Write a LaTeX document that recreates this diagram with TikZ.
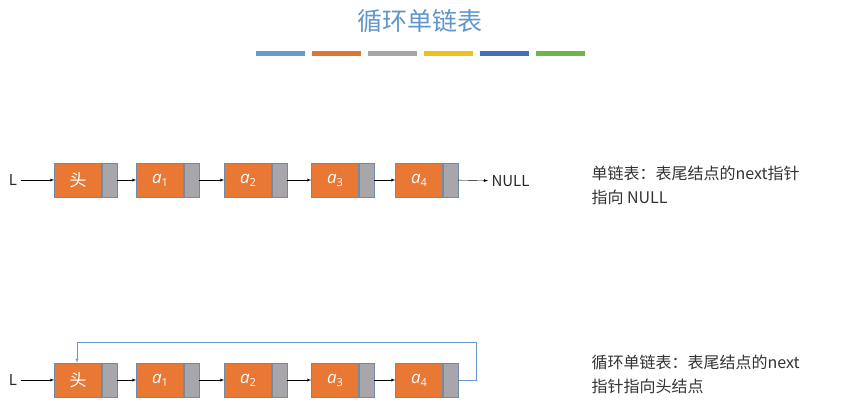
\documentclass[tikz,border=0pt]{standalone}
\usepackage{fontspec}
\setmainfont{Noto Sans CJK SC}
\newfontfamily\latin{Open Sans}
\usetikzlibrary{positioning}
\definecolor{titleblue}{RGB}{95,150,205}
\definecolor{nodeorange}{RGB}{232,120,52}
\definecolor{ptrgray}{RGB}{168,166,170}
\definecolor{edgeblue}{RGB}{110,140,170}
\definecolor{loopblue}{RGB}{100,150,205}
\definecolor{barA}{RGB}{100,155,210}
\definecolor{barB}{RGB}{225,115,55}
\definecolor{barC}{RGB}{165,165,165}
\definecolor{barD}{RGB}{240,190,30}
\definecolor{barE}{RGB}{65,110,190}
\definecolor{barF}{RGB}{110,180,75}
\newcommand\elem[1]{{\latin\itshape a}\raisebox{-3pt}{\latin\fontsize{11}{12}\selectfont #1}}
\begin{document}
\begin{tikzpicture}[x=1pt,y=-1pt,
  data/.style={draw=edgeblue,fill=nodeorange,minimum width=47pt,minimum height=34pt,inner sep=0pt,text=white,font=\fontsize{17}{20}\selectfont},
  ptr/.style={draw=edgeblue,fill=ptrgray,minimum width=15pt,minimum height=34pt,inner sep=0pt},
  link/.style={-latex,thin},
  lbl/.style={font=\fontsize{15}{18}\selectfont,text=black!85},
  note/.style={anchor=west,font=\fontsize{16}{19}\selectfont,text=black!80}]
  \useasboundingbox (0,0) rectangle (864,408);

  % title and colour bars
  \node[text=titleblue,font=\fontsize{25}{29}\selectfont] (title) at (420,21) {循环单链表};
  \foreach \c [count=\i from 0] in {barA,barB,barC,barD,barE,barF}
    \fill[\c] (256+\i*56,51) rectangle ++(49,5);

  % two lists
  \foreach \r/\y in {1/180,2/380}
  {
    \node[lbl] (L\r) at (13,\y) {L};
    \foreach \x/\t [count=\k from 0] in {78/头,160/\elem{1},248/\elem{2},335/\elem{3},419/\elem{4}}
    {
      \node[data] (d\r\k) at (\x,\y) {\t};
      \node[ptr,right=0pt of d\r\k] (p\r\k) {};
    }
    \draw[link] (L\r) -- (d\r0);
    \foreach \k [evaluate=\k as \n using int(\k+1)] in {0,...,3}
      \draw[link] (p\r\k) -- (d\r\n);
  }
  \node[lbl,anchor=west] (null) at (488,181) {NULL};
  \draw[link] (p14) -- (null);

  % loop back to head
  \coordinate (c1) at (476,380);
  \coordinate (c2) at (476,342);
  \coordinate (c3) at (77,342);
  \draw[loopblue,-latex] (p24) -- (c1) -- (c2) -- (c3) -- (c3 |- d20.north);

  % notes
  \node[note] (n1) at (588,173) {单链表：表尾结点的next指针};
  \node[note] (n2) at (588,197) {指向 NULL};
  \node[note] (n3) at (588,362) {循环单链表：表尾结点的next};
  \node[note] (n4) at (588,386) {指针指向头结点};
\end{tikzpicture}
\end{document}
